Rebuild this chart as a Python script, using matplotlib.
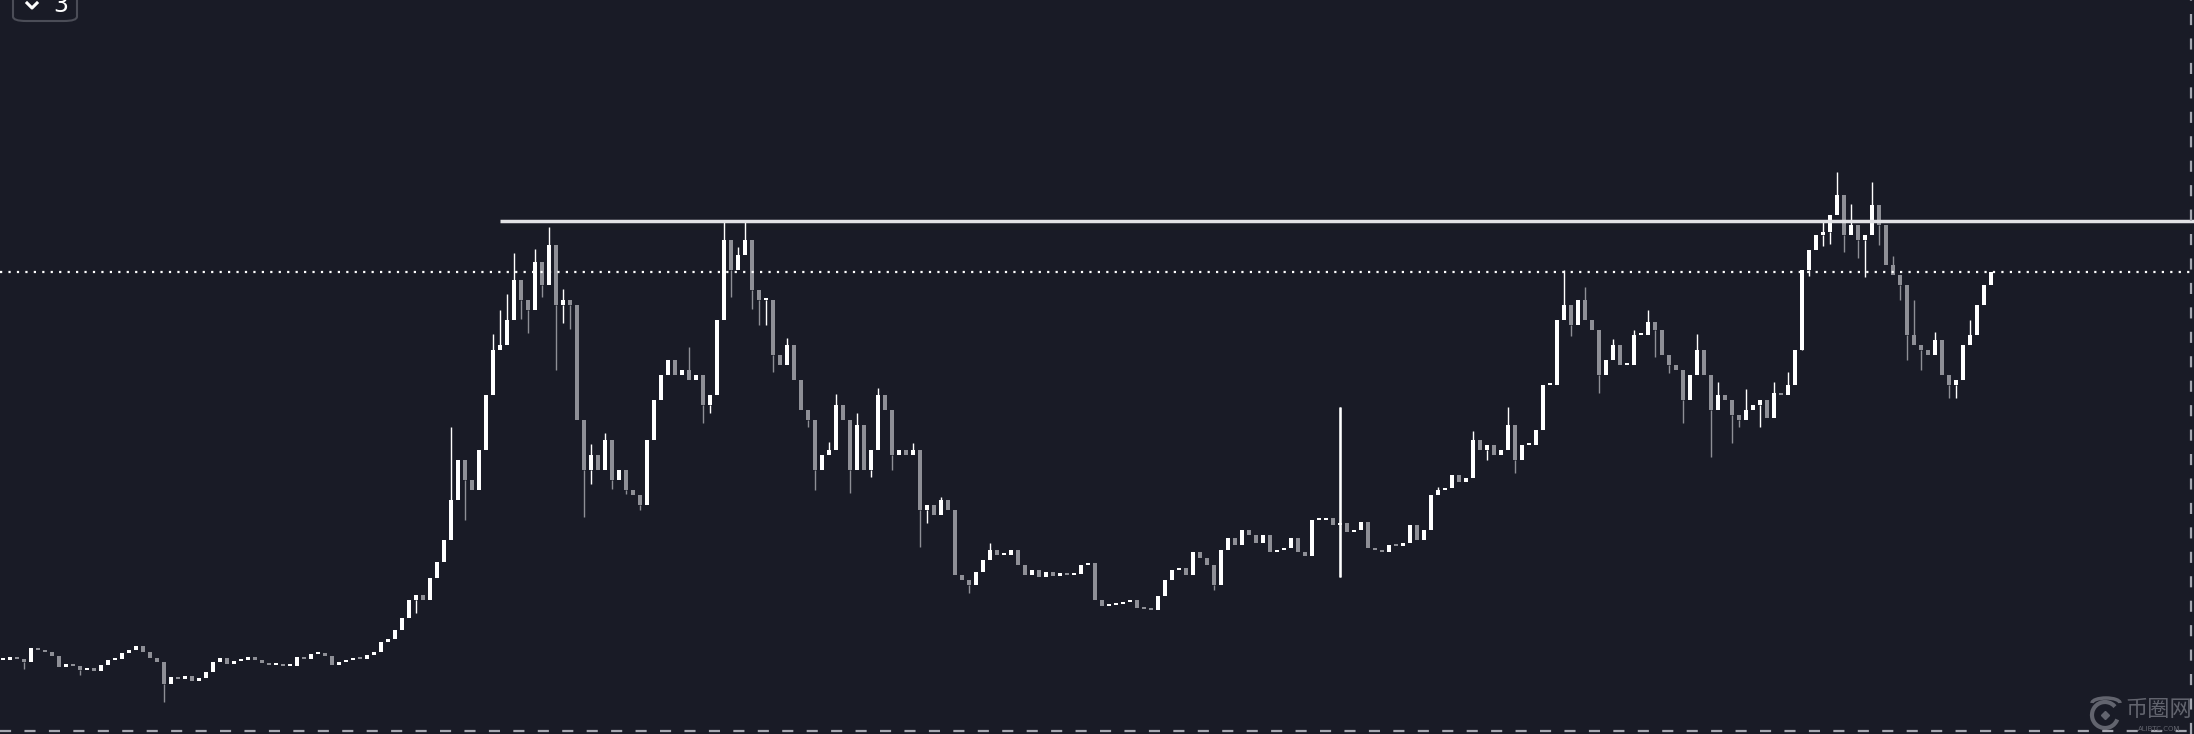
import matplotlib
matplotlib.use("Agg")
import matplotlib.pyplot as plt
from matplotlib.patches import FancyBboxPatch, Arc
import numpy as np

# ---------------- data (price levels, arbitrary units) ----------------
closes = [
    74, 77, 75, 72, 86, 84, 82, 78, 67, 70, 68, 64, 66, 63, 69, 74, 75, 81, 84, 88,
    82, 76, 72, 50, 57, 55, 58, 53, 56, 62, 72, 76, 70, 73, 74, 77, 74, 71, 69, 69,
    68, 68, 77, 75, 80, 81, 78, 69, 72, 74, 76, 75, 79, 82, 92, 95, 104, 116, 134, 139,
    134, 156, 172, 194, 234, 274, 254, 244, 284, 339, 384, 389, 414, 454, 434, 424, 472, 449, 489, 429,
    434, 429, 314, 264, 279, 264, 294, 254, 264, 244, 239, 229, 294, 334, 359, 374, 359, 364, 354, 359,
    329, 339, 414, 494, 464, 479, 494, 444, 434, 434, 379, 369, 389, 354, 324, 314, 264, 279, 284, 329,
    314, 264, 309, 264, 284, 339, 324, 279, 284, 279, 284, 224, 229, 219, 234, 224, 159, 154, 149, 162,
    174, 184, 179, 179, 184, 169, 159, 164, 157, 162, 158, 161, 159, 160, 169, 171, 134, 128, 129, 130,
    132, 134, 126, 125, 124, 138, 154, 164, 166, 159, 182, 176, 169, 149, 184, 196, 189, 204, 199, 191,
    199, 182, 184, 186, 196, 182, 178, 214, 214, 216, 209, 211, 202, 204, 212, 186, 184, 182, 189, 188,
    191, 209, 194, 204, 239, 244, 246, 259, 252, 256, 294, 284, 289, 279, 284, 309, 274, 289, 289, 304,
    349, 349, 414, 429, 409, 434, 414, 404, 359, 374, 389, 369, 369, 399, 399, 412, 404, 379, 369, 364,
    334, 359, 384, 359, 324, 339, 334, 319, 314, 324, 329, 334, 316, 341, 339, 349, 384, 464, 484, 499,
    502, 519, 539, 499, 509, 494, 499, 529, 509, 469, 459, 449, 399, 389, 384, 379, 394, 359, 349, 354,
    389, 399, 429, 449, 462,
]
first_open = 74

# wicks: candle index -> high / low
wick_high = {64: 307, 70: 400, 71: 424, 72: 440, 73: 481, 76: 485, 78: 507, 80: 445,
             84: 290, 86: 301, 98: 387, 103: 513, 105: 487, 106: 513, 112: 396,
             118: 292, 119: 340, 122: 321, 125: 346, 130: 291, 134: 237, 141: 191,
             191: 327, 205: 247, 210: 303, 215: 327, 223: 464, 226: 447, 230: 395,
             233: 404, 235: 424, 242: 400, 245: 352, 249: 345, 253: 352, 255: 362,
             260: 512, 262: 562, 264: 530, 267: 552, 270: 478, 273: 434, 276: 402,
             281: 414}
wick_low = {3: 65, 11: 59, 23: 32, 59: 121, 66: 214, 74: 415, 75: 401, 77: 437,
            79: 364, 80: 411, 81: 405, 83: 217, 84: 250, 87: 245, 89: 240, 91: 224,
            100: 311, 101: 321, 104: 437, 107: 425, 108: 409, 109: 409, 110: 362,
            115: 307, 116: 244, 121: 241, 124: 257, 127: 264, 131: 187, 132: 211,
            138: 141, 173: 144, 191: 157, 212: 274, 216: 261, 224: 398, 228: 341,
            236: 377, 238: 361, 240: 311, 244: 277, 247: 291, 248: 307, 251: 307,
            257: 407, 258: 458, 260: 488, 261: 490, 263: 482, 265: 476, 266: 457,
            268: 489, 271: 434, 272: 374, 274: 364, 278: 336, 279: 336}

resistance_level = 513
resistance_start = 71   # candle index where the drawn level begins
watermark_text = "币圈网"
watermark_sub = "ALIBTC.COM"
button_label = "3"

# ---------------- style ----------------
BG = "#191b26"
UP = "#ffffff"
DOWN = "#8e8f96"

W, H = 2194, 734
fig = plt.figure(figsize=(W / 100, H / 100), dpi=100, facecolor=BG)
ax = fig.add_axes([0, 0, 1, 1], facecolor=BG)

n = len(closes)
idx = np.arange(n)
c = np.array(closes, dtype=float)
o = np.concatenate([[first_open], c[:-1]])
up = c >= o
lo = np.minimum(o, c)
hi = np.maximum(o, c)
height = np.maximum(hi - lo, 2.0)
colors = np.where(up, UP, DOWN)

# wicks
for i, h in wick_high.items():
    ax.vlines(i, hi[i], h, color=colors[i], lw=1.0, zorder=2)
for i, l in wick_low.items():
    ax.vlines(i, l, lo[i], color=colors[i], lw=1.0, zorder=2)

ax.bar(idx, height, bottom=lo, width=0.48, color=colors, linewidth=0, zorder=3)

# x layout: candle i at pixel 3 + 7*i
px = 7.0
x0 = -3 / px
x1 = (W - 3) / px
ax.set_xlim(x0, x1)
ax.set_ylim(0, H)

# highlight the long-wick candle (index 191)
spike = 191
ax.vlines(spike, wick_low[spike], wick_high[spike], color=UP, lw=1.8, zorder=4)

# resistance line
ax.hlines(resistance_level, resistance_start, x1, color="#e2e2e6", lw=2.5, zorder=5)
# last-price dotted line
ax.plot([x0, x1], [closes[-1], closes[-1]], color="white", lw=1.6,
        linestyle=(0, (1.0, 2.8)), zorder=5, solid_capstyle="butt")

ax.axis("off")

# right dashed border & bottom dashed border (figure coords)
fig.add_artist(plt.Line2D([2191 / W, 2191 / W], [0, 1], transform=fig.transFigure,
                          color="#a5a7b0", lw=1.6, linestyle=(0, (5, 6))))
fig.add_artist(plt.Line2D([0, 1], [1 - 731 / H, 1 - 731 / H], transform=fig.transFigure,
                          color="#a5a7b0", lw=1.6, linestyle=(0, (5, 6))))

# top-left button
btn = FancyBboxPatch((13 / W, 1 - 21 / H), 64 / W, 40 / H,
                     boxstyle="round,pad=0,rounding_size=0.006",
                     transform=fig.transFigure, facecolor=BG,
                     edgecolor="#4b4d57", lw=1.5)
fig.add_artist(btn)
fig.add_artist(plt.Line2D([27 / W, 32 / W, 37 / W], [1 - 3 / H, 1 - 8 / H, 1 - 3 / H],
                          transform=fig.transFigure, color="white", lw=2.2))
fig.text(53 / W, 1 - 5 / H, button_label, color="white", fontsize=17,
         ha="left", va="center", family="DejaVu Sans")

# watermark
wm_col = "#62646e"
ax_logo = fig.add_axes([2085 / W, 0, 40 / W, 40 / H], facecolor="none")
ax_logo.set_xlim(-1, 1)
ax_logo.set_ylim(-1, 1)
ax_logo.set_aspect("equal")
ax_logo.axis("off")
ax_logo.add_patch(Arc((0, -0.05), 1.3, 1.3, theta1=40, theta2=340, color=wm_col, lw=3))
ax_logo.add_patch(Arc((0.05, 0.55), 1.4, 0.5, theta1=0, theta2=180, color=wm_col, lw=2.5))
ax_logo.plot([0], [-0.05], marker="D", color=wm_col, ms=4)
fig.text(2125 / W, 1 - 709 / H, watermark_text, color=wm_col, fontsize=16,
         family=["Noto Sans CJK SC", "DejaVu Sans"], ha="left", va="center")
fig.text(2159 / W, 1 - 729 / H, watermark_sub, color=wm_col, fontsize=5,
         family="DejaVu Sans", ha="center", va="center")

fig.savefig("out.png", dpi=100, facecolor=BG)
